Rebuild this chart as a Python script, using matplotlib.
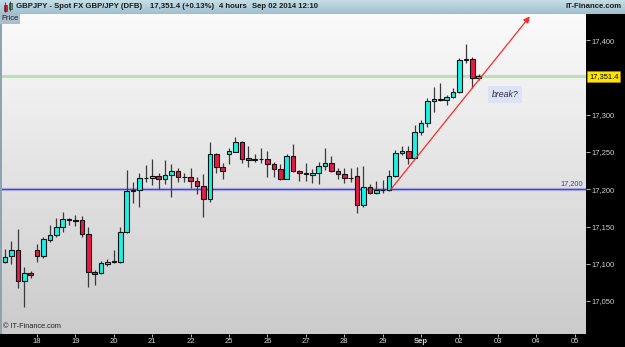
"""
GBPJPY 4-hour candlestick chart (IT-Finance style), Aug 15 - Sep 02 2014.

Run:
    python plot.py

Output:
    out.png
"""

import numpy as np
import matplotlib

matplotlib.use("Agg")
from matplotlib import pyplot as plt
from matplotlib.colors import LinearSegmentedColormap
from matplotlib.patches import Rectangle
from matplotlib.transforms import blended_transform_factory

plt.rcParams["font.family"] = ["Liberation Sans", "DejaVu Sans"]

# 4-hour candles
opens = [
    17102, 17110, 17118, 17077, 17087, 17118, 17111, 17131.5, 17138, 17150,
    17160, 17158.5, 17159, 17140, 17089, 17087, 17100, 17103, 17103, 17142.5,
    17197.5, 17198.5, 17215, 17215, 17218, 17213.5, 17219, 17225, 17216, 17216,
    17210.5, 17204.5, 17187, 17248, 17229.5, 17247, 17250.5, 17263, 17241.5, 17239,
    17240, 17240, 17233.5, 17227, 17214, 17244.5, 17224.5, 17221.5, 17219, 17222,
    17231, 17235, 17224.5, 17221, 17215.5, 17218, 17179, 17203.5, 17194.5, 17199,
    17199.5, 17218, 17249, 17252, 17242.5, 17276.5, 17288.5, 17318.5, 17321, 17320,
    17324, 17330, 17373, 17374.5, 17349,
]
highs = [
    17120, 17130, 17146, 17095, 17090, 17126, 17136, 17152, 17161, 17169.5,
    17161.5, 17165.5, 17164.5, 17150, 17091.5, 17104, 17106.5, 17118.5, 17149, 17226,
    17209.5, 17221.5, 17232.5, 17240, 17221.5, 17239.5, 17234, 17228, 17222, 17228,
    17216, 17220, 17263, 17249, 17235, 17255, 17270.5, 17265, 17258, 17247,
    17255, 17251.5, 17237, 17233.5, 17247, 17260.5, 17226, 17235, 17227, 17237,
    17255, 17245, 17228, 17228, 17228, 17230, 17231, 17207, 17211, 17212.5,
    17226, 17252.5, 17258.5, 17258.5, 17286, 17293, 17322, 17337.5, 17342, 17326.5,
    17335.5, 17376.5, 17395, 17378, 17354.5,
]
lows = [
    17101, 17100, 17067, 17042, 17081, 17103, 17108, 17129.6, 17136, 17143,
    17152, 17150.5, 17135.5, 17069, 17071.5, 17086, 17097.5, 17101.5, 17100.5, 17141,
    17181, 17176.5, 17210, 17205.5, 17200.5, 17206.5, 17189, 17209.5, 17209.5, 17202,
    17193.5, 17163, 17183, 17221.5, 17213.5, 17233.5, 17249.5, 17235.5, 17230, 17237,
    17235, 17216, 17217, 17212.5, 17213.5, 17223, 17211.5, 17210.5, 17209, 17206.5,
    17226, 17223.5, 17213.5, 17209, 17210, 17167.5, 17176.5, 17193, 17193.5, 17195.5,
    17198, 17217, 17246, 17233.5, 17241.5, 17273, 17284, 17303.5, 17319, 17313,
    17322, 17329.5, 17369, 17335.5, 17346.5,
]
closes = [
    17109, 17118, 17077, 17087, 17084.5, 17111, 17133, 17138, 17150, 17160,
    17159, 17158, 17140, 17089, 17086, 17100.5, 17103, 17103, 17142.5, 17197.5,
    17199, 17215, 17215.5, 17218, 17213.5, 17219, 17225, 17216, 17216, 17210.5,
    17204.5, 17187, 17248, 17229.5, 17224.5, 17251, 17263, 17240.5, 17239, 17240,
    17240.5, 17233.5, 17227, 17214, 17244.5, 17224.5, 17221.5, 17220.5, 17222, 17231,
    17235, 17224.5, 17221, 17215.5, 17215, 17179, 17203.5, 17194.5, 17199, 17199.5,
    17218, 17249, 17252, 17242.5, 17276.5, 17288.5, 17318.5, 17321, 17320, 17324,
    17330, 17373, 17374.5, 17349, 17351.4,
]

day_ticks = [5, 11, 17, 23, 29, 35, 41, 47, 53, 59, 65, 71, 77, 83, 89]
day_labels = ["18", "19", "20", "21", "22", "25", "26", "27", "28", "29",
              "Sep", "02", "03", "04", "05"]
# 17,350 sits under the last-price tag, so it is not labelled
price_ticks = [17050, 17100, 17150, 17200, 17250, 17300, 17400]

last_price = 17351.4
support_level = 17200
trend_start = (60.2, 17199)
trend_end = (82.0, 17432)
note_pos = (78.1, 17327)

X_RANGE = (-0.47, 90.78)
Y_RANGE = (17005.7, 17435.3)

UP_COLOR = "#19f2e6"
DOWN_COLOR = "#e8194a"

W, H = 625, 347


def draw_header(fig):
    """Top title bar with symbol description."""
    hax = fig.add_axes([0, 1 - 14 / H, 1, 14 / H])
    cmap = LinearSegmentedColormap.from_list("hdr", ["#c6dde7", "#9fc1cf"])
    hax.imshow(np.linspace(0, 1, 64).reshape(-1, 1), cmap=cmap, aspect="auto",
               extent=[0, W, 0, 14])
    hax.set_xlim(0, W)
    hax.set_ylim(0, 14)
    hax.axis("off")
    hax.axhline(0.4, color="#7b9aa8", lw=0.8)
    # tiny candle icon
    hax.vlines([5, 10], [2, 3], [12, 13], color="#333333", lw=0.6)
    hax.add_patch(Rectangle((3.5, 3.5), 3, 6, facecolor="#e0203a", edgecolor="#222222", lw=0.4))
    hax.add_patch(Rectangle((8.5, 5), 3, 6.5, facecolor="#30c030", edgecolor="#222222", lw=0.4))
    kw = dict(fontsize=5.6, fontweight="bold", color="#1a1a1a", va="center")
    hax.text(16, 7, "GBPJPY - Spot FX GBP/JPY (DFB)", ha="left", **kw)
    hax.text(150, 7, "17,351.4 (+0.13%)", ha="left", **kw)
    hax.text(219, 7, "4 hours", ha="left", **kw)
    hax.text(252, 7, "Sep 02 2014 12:10", ha="left", **kw)
    hax.text(622, 7, "IT-Finance.com", ha="right", **kw)


def draw_candles(ax):
    """Wicks and bodies from OHLC lists."""
    xs = np.arange(len(opens))
    o = np.array(opens)
    c = np.array(closes)
    ax.vlines(xs, lows, highs, color="#3a3a3a", lw=0.9, zorder=2)
    up = c >= o
    colors = np.where(up, UP_COLOR, DOWN_COLOR)
    heights = c - o
    heights = np.where(np.abs(heights) < 0.4, 0.4, heights)
    ax.bar(xs, heights, bottom=o, width=0.72, color=colors,
           edgecolor="#111111", linewidth=0.8, zorder=3)


def main():
    fig = plt.figure(figsize=(W / 100, H / 100), dpi=100, facecolor="black")
    ax = fig.add_axes([2 / W, 13 / H, 584 / W, 320 / H])

    # background gradient
    bg = LinearSegmentedColormap.from_list("bg", ["#fbfbfb", "#cbcbcb"])
    ax.imshow(np.linspace(0, 1, 256).reshape(-1, 1), cmap=bg, aspect="auto",
              extent=[X_RANGE[0], X_RANGE[1], Y_RANGE[0], Y_RANGE[1]], zorder=0)

    ax.axhline(last_price, color="#b6e2b4", lw=2.2, zorder=1)
    ax.axhline(support_level, color="#9a9af0", lw=2.4, alpha=0.6, zorder=1)
    ax.axhline(support_level, color="#4343d8", lw=0.9, zorder=1)

    draw_candles(ax)

    ax.annotate("", xy=trend_end, xytext=trend_start,
                arrowprops=dict(arrowstyle="-|>", color="#ff2a2a", lw=0.9,
                                mutation_scale=9, shrinkA=0, shrinkB=0),
                zorder=4)

    ax.text(note_pos[0], note_pos[1], "break?", fontsize=6.3, style="italic",
            color="#2a2d4a", ha="center", va="center", zorder=5,
            bbox=dict(boxstyle="square,pad=0.45", facecolor="#dde3f4", edgecolor="none"))

    blend = blended_transform_factory(ax.transAxes, ax.transData)
    ax.text(0.995, support_level + 2.5, "17,200", transform=blend, fontsize=5.3,
            color="#3535e0", ha="right", va="bottom", zorder=5)
    ax.text(1.0052, last_price, "17,351.4", transform=blend, fontsize=5.4,
            color="black", ha="left", va="center", clip_on=False, zorder=6,
            bbox=dict(boxstyle="square,pad=0.22", facecolor="#ffe400", edgecolor="#b09000", lw=0.4))

    ax.text(0.002, 0.012, "\u00a9 IT-Finance.com", transform=ax.transAxes,
            fontsize=5.3, color="#222222", ha="left", va="bottom")

    ax.set_xlim(*X_RANGE)
    ax.set_ylim(*Y_RANGE)
    for sp in ax.spines.values():
        sp.set_visible(False)

    ax.yaxis.tick_right()
    ax.set_yticks(price_ticks)
    ax.set_yticklabels([f"{p:,}" for p in price_ticks])
    ax.tick_params(axis="y", colors="#cfcfcf", labelsize=5.5, length=3, width=0.6, pad=1)
    ax.set_xticks(day_ticks)
    ax.set_xticklabels(day_labels)
    ax.tick_params(axis="x", colors="#d8d8d8", labelsize=5.5, length=2, width=0.6, pad=1.2)
    ax.get_xticklabels()[day_labels.index("Sep")].set_fontweight("bold")

    # left frame strip and "Price" tag
    fig.patches.append(Rectangle((0, 13 / H), 2 / W, 320 / H, transform=fig.transFigure,
                                 facecolor="#8ea3b0", edgecolor="none", zorder=5))
    fig.text(1 / W, 1 - 19 / H, "Price", fontsize=5.4, color="#1a1a1a", ha="left",
             va="center", zorder=6,
             bbox=dict(boxstyle="square,pad=0.2", facecolor="#a9bfcc", edgecolor="none"))

    draw_header(fig)

    fig.savefig("out.png", dpi=100, facecolor="black")
    plt.close(fig)


if __name__ == "__main__":
    main()
